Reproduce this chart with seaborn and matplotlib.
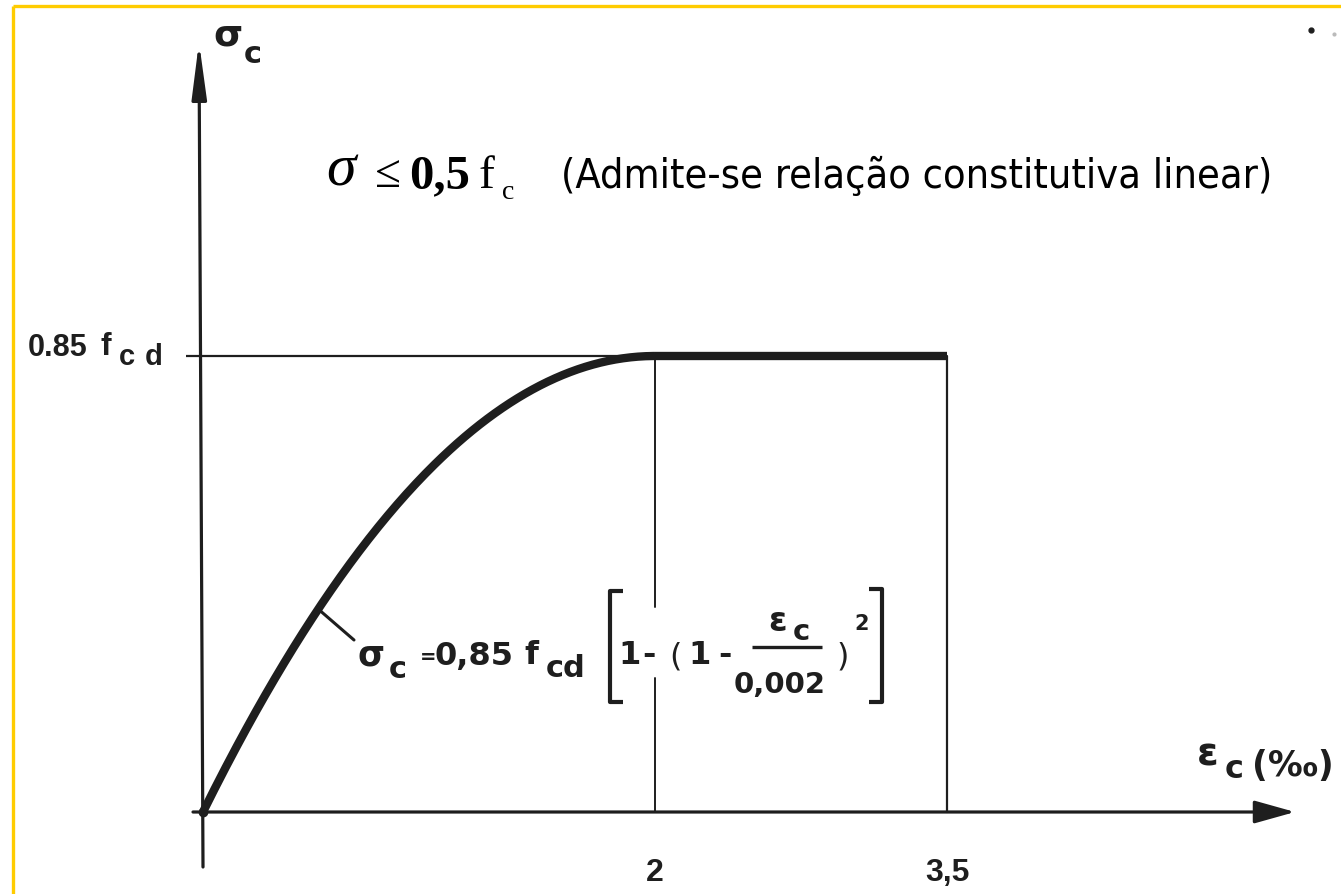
import numpy as np
import pandas as pd
import matplotlib
matplotlib.use("Agg")
import matplotlib.pyplot as plt
from matplotlib.lines import Line2D
import seaborn as sns

# ---- data -------------------------------------------------------------
# parabola-rectangle diagram of concrete (strain in per mille, stress in units of f_cd)
eps_peak = 2.0          # strain at the end of the parabola (‰)
eps_ult = 3.5           # ultimate strain (‰)
sigma_peak = 0.85       # plateau stress, 0.85 f_cd
x_tick_values = [2.0, 3.5]
x_tick_labels = ["2", "3,5"]

# curve drawn from the law printed on the diagram:
# sigma_c = 0,85 f_cd [1 - (1 - eps_c/0,002)^2]
eps_curve = np.linspace(0.0, eps_peak, 241)
sig_curve = sigma_peak * (1.0 - (1.0 - eps_curve / eps_peak) ** 2)
curve = pd.DataFrame({"eps": eps_curve, "sigma": sig_curve})
plateau = pd.DataFrame({"eps": [eps_peak, eps_ult], "sigma": [sigma_peak, sigma_peak]})

# ---- style -------------------------------------------------------------
sns.set_theme(style="white")
plt.rcParams["font.family"] = ["DejaVu Sans"]

INK = "#1e1e1e"
GOLD = "#FFCC00"
SANS = ["DejaVu Sans"]
ARIAL = ["Liberation Sans", "DejaVu Sans"]
SERIF = ["Liberation Serif", "DejaVu Serif"]

W, H = 1341, 894
fig = plt.figure(figsize=(W / 100, H / 100), dpi=100)
fig.patch.set_facecolor("white")
ax = fig.add_axes([0, 0, 1, 1])
ax.set_axis_off()

# hand-drawn scale: 0..2 ‰ is drawn wider than 2..3,5 ‰
OX, OY = 203, 812               # origin in pixels
K1 = 226.0                      # px per ‰ up to 2 ‰
K2 = (947 - 655) / 1.5          # px per ‰ beyond 2 ‰
KY = (812 - 356) / sigma_peak   # px per unit of f_cd


def fwd(x):
    x = np.asarray(x, dtype=float)
    return np.where(x <= 2.0, x * K1, 2.0 * K1 + (x - 2.0) * K2)


def inv(u):
    u = np.asarray(u, dtype=float)
    return np.where(u <= 2.0 * K1, u / K1, 2.0 + (u - 2.0 * K1) / K2)


ax.set_xscale("function", functions=(fwd, inv))
ax.set_xlim(float(inv(-OX)), float(inv(W - OX)))
ax.set_ylim(-(H - OY) / KY, OY / KY)


def px2x(px):
    return float(inv(px - OX))


def px2y(py):
    return (OY - py) / KY


def T(x, y, s, size, ha="left", weight="bold", family=SANS, color=INK, **kw):
    """Text anchored at a pixel position (baseline)."""
    fig.text(x / W, 1 - y / H, s, fontsize=size, ha=ha, va="baseline",
             fontweight=weight, family=family, color=color, **kw)


def L(xs, ys, lw, color=INK):
    """Line in figure pixel coordinates (formula strokes, frame)."""
    fig.add_artist(Line2D([x / W for x in xs], [1 - y / H for y in ys],
                          transform=fig.transFigure, color=color, lw=lw,
                          solid_capstyle="butt"))


# ---- axes with arrows --------------------------------------------------
ax.annotate("", xy=(px2x(199), px2y(42)), xytext=(px2x(203), px2y(867)),
            arrowprops=dict(arrowstyle="-|>,head_length=3.4,head_width=0.45",
                            lw=2.3, color=INK, shrinkA=0, shrinkB=0,
                            mutation_scale=10))
ax.annotate("", xy=(px2x(1295), 0), xytext=(px2x(193), 0),
            arrowprops=dict(arrowstyle="-|>,head_length=2.5,head_width=0.7",
                            lw=2.3, color=INK, shrinkA=0, shrinkB=0,
                            mutation_scale=10))

# reference lines
ax.plot([px2x(186), eps_peak], [sigma_peak, sigma_peak], color=INK, lw=1.6,
        solid_capstyle="butt")
gap_lo, gap_hi = px2y(678), px2y(607)
ax.plot([eps_peak, eps_peak], [0, gap_lo], color=INK, lw=1.4)
ax.plot([eps_peak, eps_peak], [gap_hi, sigma_peak], color=INK, lw=1.4)
ax.plot([eps_ult, eps_ult], [0, sigma_peak], color=INK, lw=1.6)

# parabola and rectangle
sns.lineplot(data=curve, x="eps", y="sigma", ax=ax, color=INK, lw=6.0,
             sort=False, estimator=None)
sns.lineplot(data=plateau, x="eps", y="sigma", ax=ax, color=INK, lw=6.0,
             sort=False, estimator=None)
for ln in ax.lines[-2:]:
    ln.set_solid_capstyle("butt")
ax.plot([0], [0], "o", color=INK, ms=6)

# leader from curve to the formula
e_lead = 0.51
s_lead = sigma_peak * (1.0 - (1.0 - e_lead / eps_peak) ** 2)
ax.plot([e_lead, px2x(354)], [s_lead, px2y(640)], color=INK, lw=2.2)

# ---- axis labels -------------------------------------------------------
T(228, 46, "σ", 27, ha="center")
T(253, 63, "c", 22, ha="center")

T(28, 356, "0.85", 22, family=ARIAL)
T(106, 355, "f", 23, ha="center", family=ARIAL)
T(127, 365, "c", 21, ha="center", family=ARIAL)
T(154, 365, "d", 21, ha="center", family=ARIAL)

T(1208, 766, "ε", 28, ha="center")
T(1234, 778, "c", 23, ha="center")
T(1252, 776, "(‰)", 25)

for xv, lab in zip(x_tick_values, x_tick_labels):
    ax.text(xv, px2y(881), lab, fontsize=23, color=INK, fontweight="bold",
            family=ARIAL, ha="center", va="baseline")

# ---- law of the parabola ----------------------------------------------
FS = 23
T(371, 665, "σ", FS + 2, ha="center")
T(398, 678, "c", FS - 1, ha="center")
T(428, 663, "=", 14, ha="center")
T(435, 665, "0,85", FS)
T(531, 664, "f", FS, ha="center")
T(566, 677, "cd", FS - 1, ha="center")
# brackets
L([623, 610, 610, 623], [591, 591, 702, 702], 3.0)
L([869, 882, 882, 869], [589, 589, 702, 702], 3.0)
T(630, 664, "1", FS, ha="center")
T(649, 664, "-", FS, ha="center")
T(675, 666, "(", FS, ha="center", weight="normal")
T(700, 664, "1", FS, ha="center")
T(725, 664, "-", FS, ha="center")
# fraction eps_c / 0,002
T(778, 631, "ε", FS + 1, ha="center")
T(801, 640, "c", FS - 2, ha="center")
L([752, 822], [647, 647], 2.4)
T(780, 693, "0,002", 21, ha="center")
T(843, 666, ")", FS, ha="center", weight="normal")
T(862, 630, "2", 15, ha="center")

# ---- admissible linear range note -------------------------------------
T(326, 186, "σ", 43, weight="normal", family=SERIF, color="black", style="italic")
T(388, 187, "≤", 34, ha="center", weight="normal", family=SERIF, color="black")
T(409, 188, "0,5", 35, weight="bold", family=SERIF, color="black")
T(479, 188, "f", 34, weight="normal", family=SERIF, color="black")
T(502, 199, "c", 20, weight="normal", family=SERIF, color="black")
T(561, 188, "(Admite-se relação constitutiva linear)", 29.7, weight="normal",
  family=["DejaVu Sans"], color="black", stretch="condensed")

# scan specks near the corner
fig.add_artist(Line2D([1311 / W], [1 - 30 / H], transform=fig.transFigure,
                      marker="o", ms=3.5, color=INK, lw=0))
fig.add_artist(Line2D([1334 / W], [1 - 34 / H], transform=fig.transFigure,
                      marker="o", ms=2, color="#bbbbbb", lw=0))

# slide frame
L([13, W], [6, 6], 2.4, GOLD)
L([13, 13], [6, H], 2.4, GOLD)

fig.savefig("out.png", dpi=100, facecolor="white")
